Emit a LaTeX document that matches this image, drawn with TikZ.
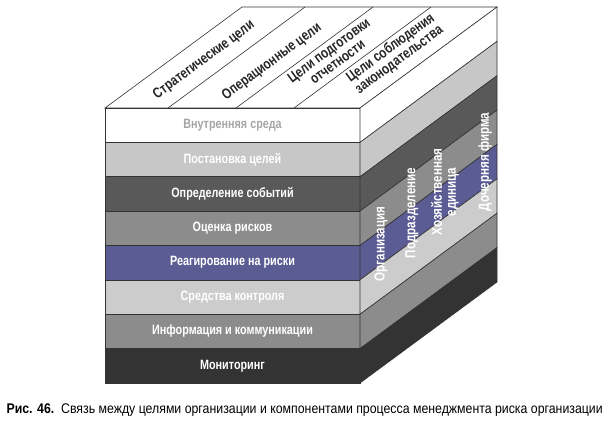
\documentclass[tikz,border=0pt]{standalone}
\usepackage{fontspec}
\setmainfont{Liberation Sans}
\newfontfamily\narrowb[FakeStretch=0.8]{Liberation Sans Bold}
\newfontfamily\narrow[FakeStretch=0.88]{Liberation Sans}
\newfontfamily\narrowcb[FakeStretch=0.88]{Liberation Sans Bold}
\begin{document}
\begin{tikzpicture}[x=1pt,y=1pt,
  bandtxt/.style={font=\narrowb\fontsize{13.5}{14}\selectfont,text=white},
  toptxt/.style={font=\narrowb\fontsize{14.5}{14.5}\selectfont,text=black!85,rotate=36.4,align=center},
  sidetxt/.style={font=\narrowb\fontsize{14.5}{14}\selectfont,text=white,rotate=90,align=center},
  edge/.style={draw=black!80,line width=0.6pt}]
\useasboundingbox (0,0) rectangle (609,424);
\def\dx{137}\def\dy{101}\def\h{34.375}
% top face
\path[edge,fill=white] (105,316) -- (360,316) -- (497,417) -- (242,417) -- cycle;
\foreach \x in {168,236,294}{\draw[edge] (\x,316) -- ++(\dx,\dy);}
% bands
\foreach [count=\i from 0] \c/\t in {white/Внутренняя среда, black!22/Постановка целей, black!65/Определение событий, black!45/Оценка рисков, {rgb,255:red,92;green,92;blue,148}/Реагирование на риски, black!20/Средства контроля, black!45/Информация и коммуникации, black!80/Мониторинг}{
  \pgfmathsetmacro\yt{316-\i*\h}
  \pgfmathsetmacro\yb{316-(\i+1)*\h}
  \path[edge,fill=\c] (105,\yb) rectangle (360,\yt);
  \path[edge,fill=\c] (360,\yb) -- (360,\yt) -- (360+\dx,\yt+\dy) -- (360+\dx,\yb+\dy) -- cycle;
  \node[bandtxt] (b\i) at (232.5,{(\yt+\yb)/2}) {\t};
}
\node[bandtxt,text=black!35] at (b0) {Внутренняя среда};
% top labels
\node[toptxt] (t1) at (204,364) {Стратегические цели};
\node[toptxt] (t2) at (272,362) {Операционные цели};
\node[toptxt] (t3) at (333,368) {Цели подготовки\\отчетности};
\node[toptxt] (t4) at (395,370) {Цели соблюдения\\законодательства};
% side labels
\node[sidetxt] (s1) at (381,180) {Организация};
\node[sidetxt] (s2) at (412,211) {Подразделение};
\node[sidetxt] (s3) at (445,232) {Хозяйственная\\единица};
\node[sidetxt] (s4) at (485,262) {Дочерняя фирма};
% caption
\node[anchor=west,font=\narrow\fontsize{14}{14}\selectfont] (cap) at (3,14)
  {{\narrowcb Рис. 46.}\ \ Связь между целями организации и компонентами процесса менеджмента риска организации};
\end{tikzpicture}
\end{document}
